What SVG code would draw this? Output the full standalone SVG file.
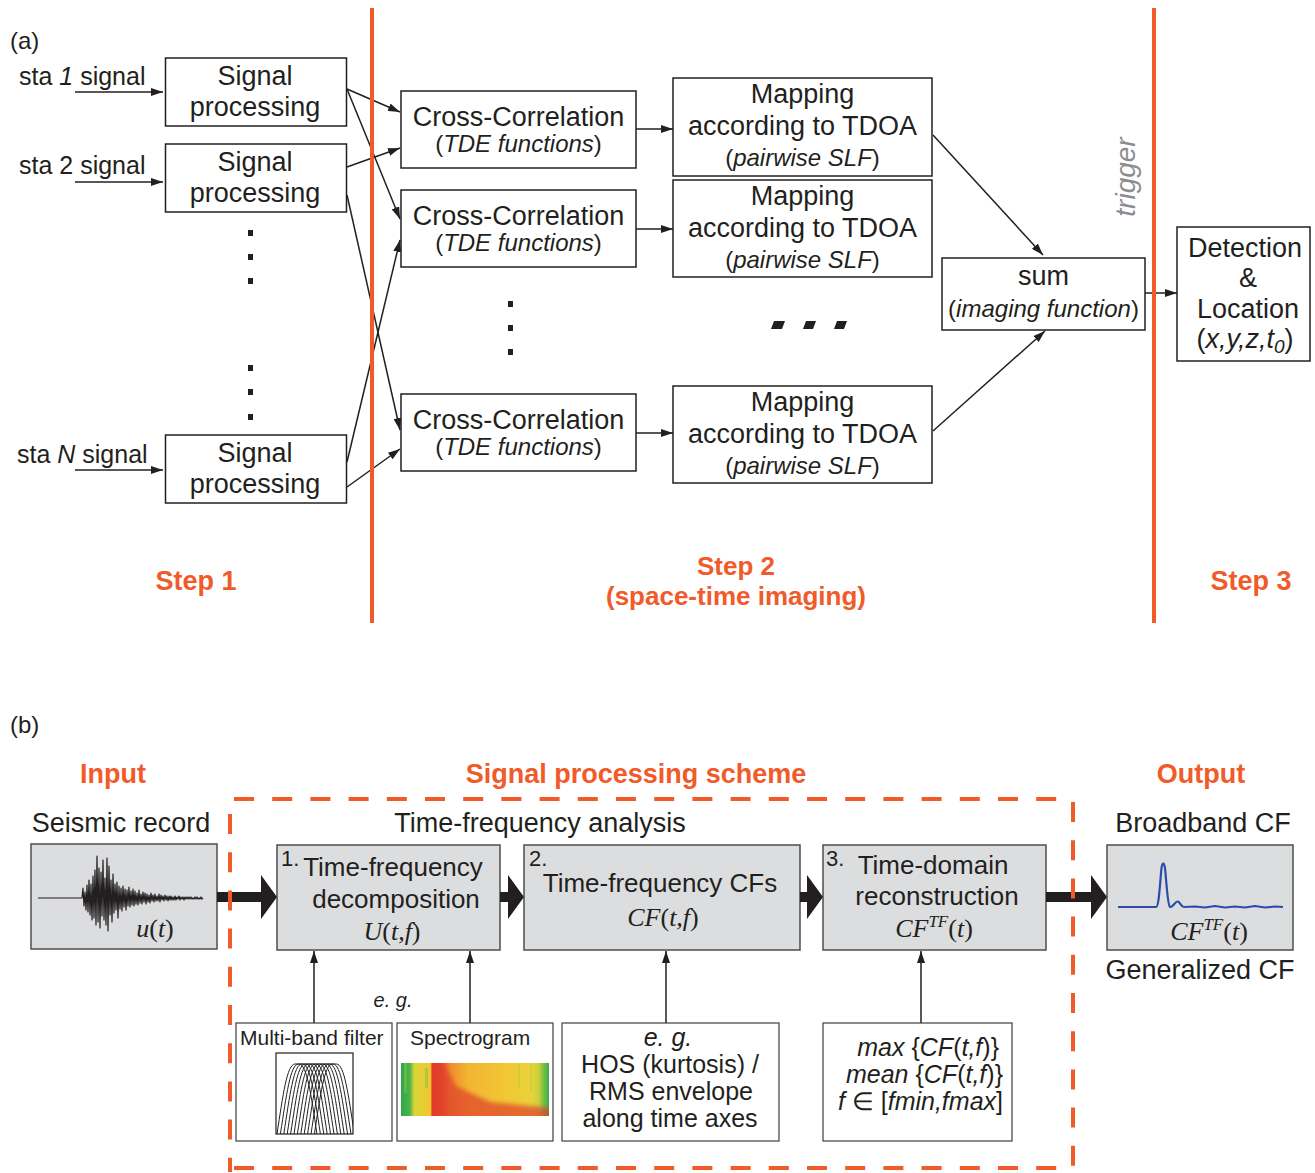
<svg xmlns="http://www.w3.org/2000/svg" width="1315" height="1173" viewBox="0 0 1315 1173">
<style>
 text{font-family:"Liberation Sans",Arial,sans-serif;fill:#231F20}
 .b{fill:#fff;stroke:#231F20;stroke-width:1.5}
 .w{fill:#fff;stroke:#4D4D4F;stroke-width:1.3}
 .g{fill:#DCDDDF;stroke:#4D4D4F;stroke-width:1.5}
 .t27{font-size:27px}
 .t26{font-size:26px}
 .t25{font-size:25px}
 .t24{font-size:24px}
 .t21{font-size:21px}
 .c{text-anchor:middle}
 .e{text-anchor:end}
 .i{font-style:italic}
 .step{font-size:27px;font-weight:bold;fill:#F15A29;text-anchor:middle}
 .conn{stroke:#231F20;stroke-width:1.5;fill:none}
 .thick{fill:#231F20;stroke:none}
 .or{stroke:#F15A29;stroke-width:4;fill:none}
 .ord{stroke:#F15A29;stroke-width:4;fill:none;stroke-dasharray:20 18.2}
 .ser{font-family:"Liberation Serif","Times New Roman",serif;font-size:26px}
 .dot{fill:#231F20}
</style>
<defs>
 <marker id="ah" markerWidth="12" markerHeight="8" refX="12" refY="4" orient="auto" markerUnits="userSpaceOnUse">
  <path d="M0,0 L12,4 L0,8 Z" fill="#231F20"/>
 </marker>
 <linearGradient id="spec" x1="0" y1="0" x2="1" y2="0">
  <stop offset="0" stop-color="#2DA84A"/>
  <stop offset="0.06" stop-color="#4DB347"/>
  <stop offset="0.09" stop-color="#D8D636"/>
  <stop offset="0.2" stop-color="#F0C830"/>
  <stop offset="0.21" stop-color="#E23A2A"/>
  <stop offset="0.27" stop-color="#E4442A"/>
  <stop offset="0.33" stop-color="#EE8A2E"/>
  <stop offset="0.45" stop-color="#F3B432"/>
  <stop offset="0.7" stop-color="#F2C635"/>
  <stop offset="0.88" stop-color="#E8D23A"/>
  <stop offset="0.93" stop-color="#C8D03C"/>
  <stop offset="0.97" stop-color="#6CBB45"/>
  <stop offset="1" stop-color="#3AAE4A"/>
 </linearGradient>
 <filter id="soft" x="-0.1" y="-0.1" width="1.2" height="1.2"><feGaussianBlur stdDeviation="2"/></filter>
 <clipPath id="fclip"><rect x="276" y="1053" width="77" height="81"/></clipPath>
 <clipPath id="sclip"><rect x="401" y="1063" width="148" height="53"/></clipPath>
</defs>
<rect x="0" y="0" width="1315" height="1173" fill="#fff"/>

<!-- ===== Part (a) ===== -->
<text class="t24" x="10" y="49">(a)</text>
<text class="t25" x="19" y="85">sta <tspan class="i">1</tspan> signal</text>
<text class="t25" x="19" y="174">sta 2 signal</text>
<text class="t25" x="17" y="463">sta <tspan class="i">N</tspan> signal</text>

<g id="sp1"><rect class="b" x="165.5" y="58" width="181" height="68"/><text class="t27 c" x="255" y="85">Signal</text><text class="t27 c" x="255" y="115.5">processing</text></g>
<g id="sp2"><rect class="b" x="165.5" y="144" width="181" height="68"/><text class="t27 c" x="255" y="171">Signal</text><text class="t27 c" x="255" y="201.5">processing</text></g>
<g id="spN"><rect class="b" x="165.5" y="435" width="181" height="68"/><text class="t27 c" x="255" y="462">Signal</text><text class="t27 c" x="255" y="492.5">processing</text></g>

<g id="dots1">
 <rect class="dot" x="248" y="230" width="5" height="6"/>
 <rect class="dot" x="248" y="254" width="5" height="6"/>
 <rect class="dot" x="248" y="278" width="5" height="6"/>
 <rect class="dot" x="248" y="365" width="5" height="6"/>
 <rect class="dot" x="248" y="389" width="5" height="6"/>
 <rect class="dot" x="248" y="414" width="5" height="6"/>
</g>

<g id="cc1"><rect class="b" x="401" y="91" width="235" height="77"/><text class="t27 c" x="518.5" y="126">Cross-Correlation</text><text class="t24 c" x="518.5" y="152">(<tspan class="i">TDE functions</tspan>)</text></g>
<g id="cc2"><rect class="b" x="401" y="190" width="235" height="77"/><text class="t27 c" x="518.5" y="225">Cross-Correlation</text><text class="t24 c" x="518.5" y="251">(<tspan class="i">TDE functions</tspan>)</text></g>
<g id="cc3"><rect class="b" x="401" y="394" width="235" height="77"/><text class="t27 c" x="518.5" y="429">Cross-Correlation</text><text class="t24 c" x="518.5" y="455">(<tspan class="i">TDE functions</tspan>)</text></g>

<g id="dots2">
 <rect class="dot" x="508" y="301" width="5" height="6"/>
 <rect class="dot" x="508" y="325" width="5" height="6"/>
 <rect class="dot" x="508" y="349" width="5" height="6"/>
</g>

<g id="map1"><rect class="b" x="673" y="78" width="259" height="98"/><text class="t27 c" x="802.5" y="103">Mapping</text><text class="t27 c" x="802.5" y="135">according to TDOA</text><text class="t24 c" x="802.5" y="166">(<tspan class="i">pairwise SLF</tspan>)</text></g>
<g id="map2"><rect class="b" x="673" y="180" width="259" height="97"/><text class="t27 c" x="802.5" y="205">Mapping</text><text class="t27 c" x="802.5" y="237">according to TDOA</text><text class="t24 c" x="802.5" y="268">(<tspan class="i">pairwise SLF</tspan>)</text></g>
<g id="map3"><rect class="b" x="673" y="386" width="259" height="97"/><text class="t27 c" x="802.5" y="411">Mapping</text><text class="t27 c" x="802.5" y="443">according to TDOA</text><text class="t24 c" x="802.5" y="474">(<tspan class="i">pairwise SLF</tspan>)</text></g>

<g id="dots3">
 <polygon class="dot" points="774,321 785,321 782,329 771,329"/>
 <polygon class="dot" points="806,321 816,321 813,329 803,329"/>
 <polygon class="dot" points="837,321 847,321 844,329 834,329"/>
</g>

<g id="sum"><rect class="b" x="942" y="258" width="203" height="72"/><text class="t27 c" x="1043.5" y="285">sum</text><text class="t24 c" x="1043.5" y="317">(<tspan class="i">imaging function</tspan>)</text></g>

<g id="detect"><rect class="b" x="1177" y="227" width="133" height="134"/>
 <text class="t27 c" x="1245" y="257">Detection</text>
 <text class="t27 c" x="1248" y="287">&amp;</text>
 <text class="t27 c" x="1248" y="318">Location</text>
 <text class="t27 c" x="1245" y="348">(<tspan class="i">x,y,z,t</tspan><tspan class="i" font-size="19" dy="5">0</tspan><tspan dy="-5">)</tspan></text>
</g>

<g id="connectors-a">
 <path class="conn" marker-end="url(#ah)" d="M75,92 H163"/>
 <path class="conn" marker-end="url(#ah)" d="M75,182 H163"/>
 <path class="conn" marker-end="url(#ah)" d="M75,470 H163"/>
 <path class="conn" marker-end="url(#ah)" d="M347,89 L400,112"/>
 <path class="conn" marker-end="url(#ah)" d="M347,89 L400,219"/>
 <path class="conn" marker-end="url(#ah)" d="M347,167 L400,148"/>
 <path class="conn" marker-end="url(#ah)" d="M347,195 L400,430"/>
 <path class="conn" marker-end="url(#ah)" d="M347,462 L400,240"/>
 <path class="conn" marker-end="url(#ah)" d="M347,487 L400,449"/>
 <path class="conn" marker-end="url(#ah)" d="M636,129 H673"/>
 <path class="conn" marker-end="url(#ah)" d="M636,229 H673"/>
 <path class="conn" marker-end="url(#ah)" d="M636,433 H673"/>
 <path class="conn" marker-end="url(#ah)" d="M933,135 L1043,255"/>
 <path class="conn" marker-end="url(#ah)" d="M933,431 L1045,331"/>
 <path class="conn" marker-end="url(#ah)" d="M1145,293 H1177"/>
</g>

<g id="dividers">
 <line class="or" x1="372" y1="8" x2="372" y2="623"/>
 <line class="or" x1="1154" y1="8" x2="1154" y2="623"/>
</g>
<text class="i" font-size="28" style="fill:#8A8C8E" text-anchor="middle" transform="translate(1135,177) rotate(-90)">trigger</text>

<text class="step" x="196" y="590">Step 1</text>
<text class="step" style="font-size:26px" x="736" y="575">Step 2</text>
<text class="step" style="font-size:26px" x="736" y="605">(space-time imaging)</text>
<text class="step" x="1251" y="590">Step 3</text>

<!-- ===== Part (b) ===== -->
<text class="t24" x="10" y="733">(b)</text>
<text class="step" x="113" y="783">Input</text>
<text class="step" x="636" y="783">Signal processing scheme</text>
<text class="step" x="1201" y="783">Output</text>
<text class="t27 c" x="121" y="832">Seismic record</text>
<text class="t27 c" x="540" y="832">Time-frequency analysis</text>
<text class="t27 c" x="1203" y="832">Broadband CF</text>
<text class="t27 c" x="1200" y="979">Generalized CF</text>

<g id="seismic">
 <rect class="g" x="31" y="844" width="186" height="105"/>
 <polyline fill="none" stroke="#231F20" stroke-width="1.2" stroke-linejoin="round" points="38,898 82,898 83,888 84,906 85,892 86,910 87,885 88,912 89,880 90,915 91,884 92,920 93,876 94,918 95,870 96,925 97,856 98,922 99,868 100,928 101,872 102,916 103,860 104,920 105,878 106,925 107,858 108,931 109,866 110,915 111,880 112,922 113,874 114,913 115,884 116,910 117,882 118,918 119,886 120,909 121,888 122,911 123,886 124,907 125,889 126,910 127,890 128,906 129,887 130,907 131,891 132,905 133,889 134,906 135,891 136,904 137,893 138,905 139,890 140,903 141,894 142,904 143,892 144,902 145,893 146,904 147,894 148,902 149,895 150,903 151,893 152,901 153,895 154,902 155,894 156,901 157,896 158,901 159,894 160,902 161,895 162,900 163,896 164,901 165,895 166,900 167,896 168,901 169,896 170,900 171,896 172,900 173,897 174,900 175,896 176,900 177,897 178,899 179,896 180,900 181,897 182,899 183,897 184,900 185,897 186,899 187,897 188,899 189,897 190,899 191,897 192,899 193,898 194,899 195,897 196,899 197,897 198,899 199,898 200,899 201,897 202,899 203,898"/>
 <text class="ser c" x="155" y="937"><tspan font-style="italic">u</tspan>(<tspan font-style="italic">t</tspan>)</text>
</g>

<g id="tfdecomp">
 <rect class="g" x="277" y="845" width="223" height="105"/>
 <text font-size="22" x="281" y="866">1.</text>
 <text class="t26 c" x="393" y="876">Time-frequency</text>
 <text class="t26 c" x="396" y="908">decomposition</text>
 <text class="ser c" x="392" y="940"><tspan font-style="italic">U</tspan>(<tspan font-style="italic">t,f</tspan>)</text>
</g>

<g id="tfcfs">
 <rect class="g" x="524" y="845" width="276" height="105"/>
 <text font-size="22" x="529" y="866">2.</text>
 <text class="t26 c" x="660" y="892">Time-frequency CFs</text>
 <text class="ser c" x="663" y="926"><tspan font-style="italic">CF</tspan>(<tspan font-style="italic">t,f</tspan>)</text>
</g>

<g id="tdrecon">
 <rect class="g" x="823" y="845" width="223" height="105"/>
 <text font-size="22" x="826" y="866">3.</text>
 <text class="t26 c" x="933" y="874">Time-domain</text>
 <text class="t26 c" x="937" y="905">reconstruction</text>
 <text class="ser c" x="934" y="937"><tspan font-style="italic">CF</tspan><tspan font-style="italic" font-size="17" dy="-10">TF</tspan><tspan dy="10">(</tspan><tspan font-style="italic">t</tspan>)</text>
</g>

<g id="output">
 <rect class="g" x="1107" y="845" width="186" height="105"/>
 <path fill="none" stroke="#2C4CAA" stroke-width="2.2" stroke-linejoin="round" d="M1118,907 L1156,907 C1159,907 1160,882 1161.5,868 C1162.5,862 1164,862 1165,868 C1166.5,882 1167.5,905 1170,907 C1173,908 1175,901 1178,901.5 C1180,902 1181,907 1184,907 L1195,906.5 L1205,907.5 L1215,906 L1225,907.5 L1235,906.5 L1245,907.5 L1255,906 L1265,907.5 L1275,906.5 L1283,907"/>
 <text class="ser c" x="1209" y="940"><tspan font-style="italic">CF</tspan><tspan font-style="italic" font-size="17" dy="-10">TF</tspan><tspan dy="10">(</tspan><tspan font-style="italic">t</tspan>)</text>
</g>

<g id="multiband">
 <rect class="w" x="236" y="1023" width="156" height="118"/>
 <text class="t21" x="240" y="1045">Multi-band filter</text>
 <g clip-path="url(#fclip)" fill="none" stroke="#231F20" stroke-width="1">
  <path d="M277,1134 C283,1095 287,1064 295,1064 L299,1064 C307,1064 311,1095 317,1134"/>
  <path d="M280.4,1134 C286.4,1095 290.4,1064 298.4,1064 L302.4,1064 C310.4,1064 314.4,1095 320.4,1134"/>
  <path d="M283.8,1134 C289.8,1095 293.8,1064 301.8,1064 L305.8,1064 C313.8,1064 317.8,1095 323.8,1134"/>
  <path d="M287.2,1134 C293.2,1095 297.2,1064 305.2,1064 L309.2,1064 C317.2,1064 321.2,1095 327.2,1134"/>
  <path d="M290.6,1134 C296.6,1095 300.6,1064 308.6,1064 L312.6,1064 C320.6,1064 324.6,1095 330.6,1134"/>
  <path d="M294,1134 C300,1095 304,1064 312,1064 L316,1064 C324,1064 328,1095 334,1134"/>
  <path d="M297.4,1134 C303.4,1095 307.4,1064 315.4,1064 L319.4,1064 C327.4,1064 331.4,1095 337.4,1134"/>
  <path d="M300.8,1134 C306.8,1095 310.8,1064 318.8,1064 L322.8,1064 C330.8,1064 334.8,1095 340.8,1134"/>
  <path d="M304.2,1134 C310.2,1095 314.2,1064 322.2,1064 L326.2,1064 C334.2,1064 338.2,1095 344.2,1134"/>
  <path d="M307.6,1134 C313.6,1095 317.6,1064 325.6,1064 L329.6,1064 C337.6,1064 341.6,1095 347.6,1134"/>
  <path d="M311,1134 C317,1095 321,1064 329,1064 L333,1064 C341,1064 345,1095 351,1134"/>
  <path d="M314.4,1134 C320.4,1095 324.4,1064 332.4,1064 L336.4,1064 C344.4,1064 348.4,1095 354.4,1134"/>
 </g>
 <rect x="276" y="1053" width="77" height="81" fill="none" stroke="#231F20" stroke-width="1.2"/>
</g>

<g id="spectrogram">
 <rect class="w" x="397" y="1023" width="156" height="118"/>
 <text class="t21" x="410" y="1045">Spectrogram</text>
 <g clip-path="url(#sclip)">
  <rect x="401" y="1063" width="148" height="53" fill="url(#spec)"/>
  <polygon points="434,1060 442,1060 456,1086 490,1102 552,1108 552,1120 434,1120" fill="#E0402A" opacity="0.7" filter="url(#soft)"/>
  <rect x="404" y="1063" width="3" height="30" fill="#7CC043" opacity="0.6"/>
  <rect x="425" y="1068" width="3" height="20" fill="#8CC443" opacity="0.6"/>
  <rect x="518" y="1063" width="2" height="25" fill="#B8CC3C" opacity="0.5"/>
  <rect x="530" y="1063" width="2" height="28" fill="#B8CC3C" opacity="0.5"/>
 </g>
</g>

<g id="hos">
 <rect class="w" x="562" y="1023" width="217" height="118"/>
 <text class="t25 c i" x="668" y="1046">e. g.</text>
 <text class="t25 c" x="670" y="1073">HOS (kurtosis) /</text>
 <text class="t25 c" x="671" y="1100">RMS envelope</text>
 <text class="t25 c" x="670" y="1127">along time axes</text>
</g>

<g id="maxmean">
 <rect class="w" x="823" y="1023" width="189" height="118"/>
 <text class="t25 e" x="999" y="1056"><tspan class="i">max</tspan> {<tspan class="i">CF</tspan>(<tspan class="i">t,f</tspan>)}</text>
 <text class="t25 e" x="1003" y="1083"><tspan class="i">mean</tspan> {<tspan class="i">CF</tspan>(<tspan class="i">t,f</tspan>)}</text>
 <text class="t25 e" x="1003" y="1110"><tspan class="i">f</tspan> ∈ [<tspan class="i">fmin,fmax</tspan>]</text>
</g>

<text class="i c" font-size="20" x="393" y="1007">e. g.</text>

<g id="connectors-b">
 <path class="thick" d="M217,892 H261 V875 L277,897 L261,919 V902 H217 Z"/>
 <path class="thick" d="M500,892 H508 V875 L524,897 L508,919 V902 H500 Z"/>
 <path class="thick" d="M800,892 H807 V875 L823,897 L807,919 V902 H800 Z"/>
 <path class="thick" d="M1046,892 H1091 V875 L1107,897 L1091,919 V902 H1046 Z"/>
 <path class="conn" stroke-width="1.2" marker-end="url(#ah)" d="M314,1023 V951"/>
 <path class="conn" stroke-width="1.2" marker-end="url(#ah)" d="M470,1023 V951"/>
 <path class="conn" stroke-width="1.2" marker-end="url(#ah)" d="M666,1023 V951"/>
 <path class="conn" stroke-width="1.2" marker-end="url(#ah)" d="M921,1023 V951"/>
</g>

<g id="scheme-frame">
 <line class="ord" x1="234" y1="799" x2="1057" y2="799"/>
 <line class="ord" x1="1073" y1="802" x2="1073" y2="1172"/>
 <line class="ord" x1="230" y1="814" x2="230" y2="1172"/>
 <line class="ord" x1="234" y1="1168" x2="1073" y2="1168"/>
</g>
</svg>
